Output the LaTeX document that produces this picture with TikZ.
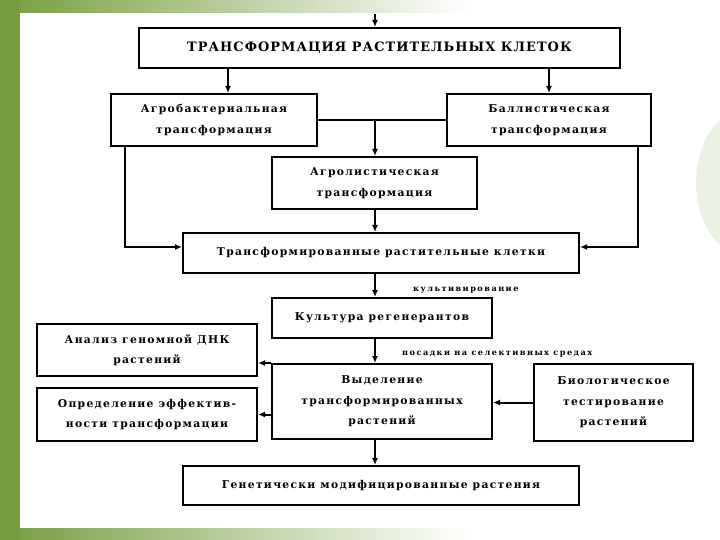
\documentclass[tikz,border=0pt]{standalone}
\usepackage{fontspec}
\setmainfont{DejaVu Serif}
\newfontfamily\boxfont[LetterSpace=12]{DejaVu Serif}
\newfontfamily\titlefont[LetterSpace=8]{DejaVu Serif}
\newfontfamily\notefont[LetterSpace=18]{DejaVu Serif}
\usepackage{tikz}
\usetikzlibrary{shapes,arrows,arrows.meta,positioning,calc}

\definecolor{slidegreen}{RGB}{118,158,62}

\begin{document}
\begin{tikzpicture}[x=1bp, y=-1bp, >={Latex[length=7bp,width=6bp]},
    block/.style={draw, line width=2bp, fill=white, align=center, inner sep=0pt,
      font=\boxfont\bfseries\fontsize{10.8}{20.5}\selectfont},
    link/.style={line width=2bp},
    note/.style={font=\notefont\bfseries\fontsize{8.2}{9}\selectfont, inner sep=0pt}]
    \useasboundingbox (0,0) rectangle (720,540);

    % Slide background
    \fill[white] (0,0) rectangle (720,540);
    \shade[left color=slidegreen, right color=white] (0,0) rectangle (470,13);
    \shade[left color=slidegreen, right color=white] (0,528) rectangle (470,540);
    \fill[slidegreen] (0,0) rectangle (20,540);
    \fill[slidegreen!15] (720,120) .. controls (688,150) and (688,215) .. (720,245) -- cycle;

    % Main column
    \coordinate (spine) at (375,0);
    \coordinate (start) at (375,14);
    \node[block, minimum width=481bp, minimum height=40bp,
      font=\titlefont\bfseries\fontsize{13}{15}\selectfont] (title) at (379.5,48)
      {ТРАНСФОРМАЦИЯ РАСТИТЕЛЬНЫХ КЛЕТОК};
    \node[block, minimum width=206bp, minimum height=52bp] (agro) at (214,120)
      {Агробактериальная\\трансформация};
    \node[block, minimum width=204bp, minimum height=52bp] (ballist) at (549,120)
      {Баллистическая\\трансформация};
    \node[block, minimum width=205bp, minimum height=52bp] (agrolist) at (374.5,183)
      {Агролистическая\\трансформация};
    \node[block, minimum width=396bp, minimum height=40bp] (cells) at (381,253)
      {Трансформированные растительные клетки};
    \node[block, minimum width=220bp, minimum height=40bp] (culture) at (382,318)
      {Культура регенерантов};
    \node[block, minimum width=220bp, minimum height=75bp] (select) at (382,401.5)
      {Выделение\\трансформированных\\растений};
    \node[block, minimum width=396bp, minimum height=39bp] (gmplants) at (381,485.5)
      {Генетически модифицированные растения};

    % Side boxes
    \node[block, minimum width=220bp, minimum height=52bp] (dna) at (147,350)
      {Анализ геномной ДНК\\растений};
    \node[block, minimum width=220bp, minimum height=53bp] (effic) at (147,414.5)
      {Определение эффектив-\\ности трансформации};
    \node[block, minimum width=159bp, minimum height=77bp] (biotest) at (613.5,402.5)
      {Биологическое\\тестирование\\растений};

    % Notes
    \node[note, anchor=west] (cultnote) at (413,290) {культивирование};
    \node[note, anchor=west] (plantnote) at (402,354) {посадки на селективных средах};

    % Connectors
    \draw[link,->] (start) -- (spine |- title.north);
    \draw[link,->] ([xshift=14bp]agro.north |- title.south) -- ([xshift=14bp]agro.north);
    \draw[link,->] (title.south -| ballist.north) -- (ballist.north);
    \draw[link] (agro.east) -- (ballist.west);
    \draw[link,->] (spine |- agro.east) -- (spine |- agrolist.north);
    \draw[link,->] (spine |- agrolist.south) -- (spine |- cells.north);
    \draw[link,->] ([xshift=15bp]agro.south west) |- ([yshift=6bp]cells.west);
    \draw[link,->] ([xshift=-14bp]ballist.south east) |- ([yshift=6bp]cells.east);
    \draw[link,->] (spine |- cells.south) -- (spine |- culture.north);
    \draw[link,->] (spine |- culture.south) -- (spine |- select.north);
    \draw[link,->] (spine |- select.south) -- (spine |- gmplants.north);
    \draw[link,->] (select.north west) -- (select.north west -| dna.east);
    \draw[link,->] (select.west |- effic.east) -- (effic.east);
    \draw[link,->] (biotest.west) -- (biotest.west -| select.east);
\end{tikzpicture}
\end{document}
